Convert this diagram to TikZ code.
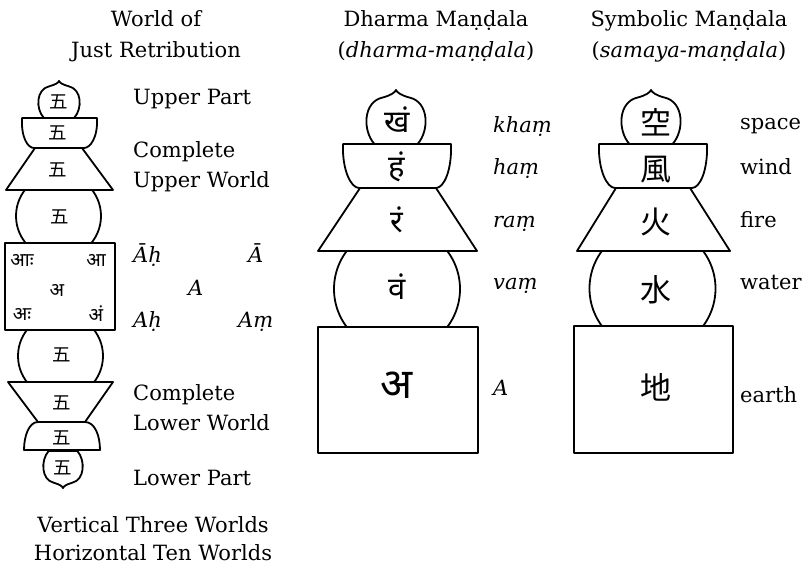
\documentclass[tikz,border=0pt]{standalone}
\usepackage{fontspec}
\setmainfont{DejaVu Serif}
\newfontfamily\cjk{Noto Sans CJK JP}
\newfontfamily\deva[Script=Devanagari]{Noto Sans}
\tikzset{
  shp/.style={draw=black, line width=1.8pt, line join=round, fill=white},
  arcl/.style={draw=black, line width=1.8pt},
  lbl/.style={font=\fontsize{21}{30}\selectfont, anchor=base west, inner sep=0pt},
  ilbl/.style={font=\itshape\fontsize{21}{30}\selectfont, anchor=base west, inner sep=0pt},
  hdr/.style={font=\fontsize{21}{30}\selectfont, anchor=base, inner sep=0pt},
  five/.style={font=\cjk\fontsize{18.5}{18.5}\selectfont, inner sep=0pt},
  kanji/.style={font=\cjk\fontsize{31}{31}\selectfont, inner sep=0pt},
  sidd/.style={font=\deva\fontsize{19}{19}\selectfont, inner sep=0pt},
  siddb/.style={font=\deva\fontsize{31}{31}\selectfont, inner sep=0pt},
}
\newcommand\jewelshape[5]{%
  \begin{scope}[shift={(#1,#2)},yscale=#5]
    \draw[shp] ({-0.72*#3},0) .. controls ({-1.12*#3},{0.25*#4}) and ({-1.1*#3},{0.78*#4}) .. ({-0.45*#3},{0.86*#4})
      .. controls ({-0.18*#3},{0.9*#4}) and ({-0.04*#3},{0.95*#4}) .. (0,{#4})
      .. controls ({0.04*#3},{0.95*#4}) and ({0.18*#3},{0.9*#4}) .. ({0.45*#3},{0.86*#4})
      .. controls ({1.1*#3},{0.78*#4}) and ({1.12*#3},{0.25*#4}) .. ({0.72*#3},0) -- cycle;
  \end{scope}}
\newcommand\clipcircle[4]{% cx, cy, r, halfheight
  \begin{scope}
    \clip ({#1-#3-5},{#2-#4}) rectangle ({#1+#3+5},{#2+#4});
    \draw[arcl] (#1,#2) circle ({#3});
  \end{scope}}
\begin{document}
\begin{tikzpicture}[x=1pt,y=-1pt]
\useasboundingbox[fill=white] (0,0) rectangle (808,569);

% ---------- left pagoda ----------
\jewelshape{59}{118}{21}{-37}{1}
\draw[shp] (22,118) -- (97,118) .. controls (98,138) and (90,148) .. (84,148) -- (34,148) .. controls (28,148) and (21,138) .. (22,118) -- cycle;
\draw[shp] (35,148) -- (82,148) -- (113,190) -- (6,190) -- cycle;
\clipcircle{58.5}{216}{42.5}{26}
\draw[shp] (5,243) rectangle (115,330);
\clipcircle{60.5}{356}{42.5}{26}
\draw[shp] (8,382) -- (113,382) -- (85,422) -- (38,422) -- cycle;
\draw[shp] (38,422) -- (85,422) .. controls (95,422) and (100,436) .. (100,450) -- (24,450) .. controls (24,436) and (29,422) .. (38,422) -- cycle;
\jewelshape{63}{451}{20}{-37}{-1}

\node[five] (f1) at (59,102) {五};
\node[five] (f2) at (58,133) {五};
\node[five] (f3) at (58,170) {五};
\node[five] (f4) at (60,217) {五};
\node[five] (f5) at (62,355) {五};
\node[five] (f6) at (62,403) {五};
\node[five] (f7) at (62,438) {五};
\node[five] (f8) at (63,468) {五};

\node[sidd] (s1) at (22,260) {आः};
\node[sidd] (s2) at (96,260) {आ};
\node[sidd] (s3) at (57,290) {अ};
\node[sidd] (s4) at (22,314) {अः};
\node[sidd] (s5) at (96,314) {अं};

\node[lbl] (l1) at (133,105) {Upper Part};
\node[lbl] (l2) at (133,158) {Complete};
\node[lbl] (l3) at (133,188) {Upper World};
\node[ilbl] (l4) at (133,262) {Āḥ};
\node[ilbl] (l5) at (248,262) {Ā};
\node[ilbl] (l6) at (188,295) {A};
\node[ilbl] (l7) at (133,327) {Aḥ};
\node[ilbl] (l8) at (238,327) {Aṃ};
\node[lbl] (l9) at (133,400) {Complete};
\node[lbl] (l10) at (133,430) {Lower World};
\node[lbl] (l11) at (133,485) {Lower Part};

\node[hdr] (h1) at (156,27) {World of};
\node[hdr] (h2) at (156,58) {Just Retribution};
\node[hdr] (b1) at (153,532) {Vertical Three Worlds};
\node[hdr] (b2) at (153,560) {Horizontal Ten Worlds};

% ---------- middle pagoda ----------
\jewelshape{396}{144}{30}{-54}{1}
\draw[shp] (343,144) -- (451,144) .. controls (452,170) and (444,188) .. (436,188) -- (359,188) .. controls (351,188) and (342,170) .. (343,144) -- cycle;
\draw[shp] (360,188) -- (436,188) -- (477,251) -- (318,251) -- cycle;
\clipcircle{397}{289}{63}{38}
\draw[shp] (318,327) rectangle (478,453);

\node[siddb] (m1) at (397,120) {खं};
\node[siddb] (m2) at (397,167) {हं};
\node[siddb] (m3) at (397,220) {रं};
\node[siddb] (m4) at (397,287) {वं};
\node[siddb, font=\deva\fontsize{42}{42}\selectfont] (m5) at (397,385) {अ};

\node[ilbl] (ml1) at (493,133) {khaṃ};
\node[ilbl] (ml2) at (493,175) {haṃ};
\node[ilbl] (ml3) at (493,228) {raṃ};
\node[ilbl] (ml4) at (493,290) {vaṃ};
\node[ilbl] (ml5) at (493,395) {A};

\node[hdr] (h3) at (436,27) {Dharma Maṇḍala};
\node[hdr] (h4) at (436,58) {(\textit{dharma-maṇḍala})};

% ---------- right pagoda ----------
\jewelshape{651}{144}{30}{-54}{1}
\draw[shp] (599,144) -- (707,144) .. controls (708,170) and (700,188) .. (692,188) -- (615,188) .. controls (607,188) and (598,170) .. (599,144) -- cycle;
\draw[shp] (616,188) -- (690,188) -- (730,251) -- (577,251) -- cycle;
\clipcircle{652.5}{288.5}{63}{37.5}
\draw[shp] (574,326) rectangle (733,453);

\node[kanji] (k1) at (656,122) {空};
\node[kanji] (k2) at (656,170) {風};
\node[kanji] (k3) at (656,222) {火};
\node[kanji] (k4) at (656,290) {水};
\node[kanji] (k5) at (656,387) {地};

\node[lbl] (rl1) at (740,130) {space};
\node[lbl] (rl2) at (740,175) {wind};
\node[lbl] (rl3) at (740,228) {fire};
\node[lbl] (rl4) at (740,290) {water};
\node[lbl] (rl5) at (740,402) {earth};

\node[hdr] (h5) at (689,27) {Symbolic Maṇḍala};
\node[hdr] (h6) at (689,58) {(\textit{samaya-maṇḍala})};
\end{tikzpicture}
\end{document}
